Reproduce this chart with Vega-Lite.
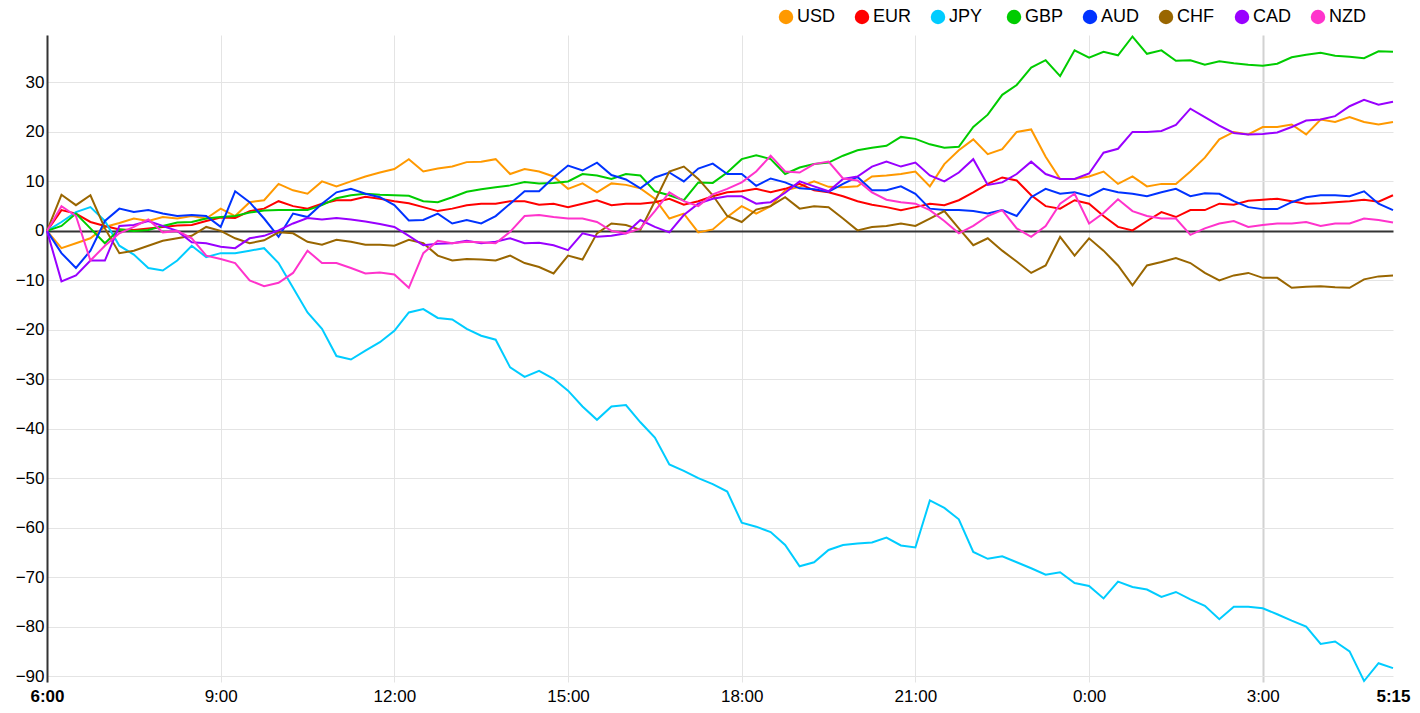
{
  "$schema": "https://vega.github.io/schema/vega-lite/v6.json",
  "description": "Intraday currency strength lines, 6:00 to 5:15.",
  "width": 1346,
  "height": 647,
  "autosize": {"type": "none"},
  "padding": {"left": 47, "top": 35, "right": 27, "bottom": 31},
  "background": "white",
  "config": {
    "font": "Liberation Sans",
    "view": {"stroke": null},
    "axis": {"labelFontSize": 17, "labelColor": "#000", "labelFont": "Liberation Sans"}
  },
  "data": {
    "values": [
      {"m":0,"c":"USD","v":0},{"m":15,"c":"USD","v":-3.5},{"m":30,"c":"USD","v":-2.5},{"m":45,"c":"USD","v":-1.5},{"m":60,"c":"USD","v":0.8},{"m":75,"c":"USD","v":1.6},{"m":90,"c":"USD","v":2.5},{"m":105,"c":"USD","v":2},{"m":120,"c":"USD","v":2.8},{"m":135,"c":"USD","v":2.5},
      {"m":150,"c":"USD","v":3},{"m":165,"c":"USD","v":2.5},{"m":180,"c":"USD","v":4.5},{"m":195,"c":"USD","v":3},{"m":210,"c":"USD","v":5.8},{"m":225,"c":"USD","v":6.2},{"m":240,"c":"USD","v":9.5},{"m":255,"c":"USD","v":8.2},{"m":270,"c":"USD","v":7.5},{"m":285,"c":"USD","v":10},
      {"m":300,"c":"USD","v":9},{"m":315,"c":"USD","v":10},{"m":330,"c":"USD","v":11},{"m":345,"c":"USD","v":11.8},{"m":360,"c":"USD","v":12.5},{"m":375,"c":"USD","v":14.5},{"m":390,"c":"USD","v":12},{"m":405,"c":"USD","v":12.6},{"m":420,"c":"USD","v":13},{"m":435,"c":"USD","v":13.9},
      {"m":450,"c":"USD","v":14},{"m":465,"c":"USD","v":14.5},{"m":480,"c":"USD","v":11.5},{"m":495,"c":"USD","v":12.5},{"m":510,"c":"USD","v":12},{"m":525,"c":"USD","v":11},{"m":540,"c":"USD","v":8.5},{"m":555,"c":"USD","v":9.6},{"m":570,"c":"USD","v":7.8},{"m":585,"c":"USD","v":9.6},
      {"m":600,"c":"USD","v":9.3},{"m":615,"c":"USD","v":8.6},{"m":630,"c":"USD","v":6.5},{"m":645,"c":"USD","v":2.5},{"m":660,"c":"USD","v":3.5},{"m":675,"c":"USD","v":-0.3},{"m":690,"c":"USD","v":0.3},{"m":705,"c":"USD","v":2.8},{"m":720,"c":"USD","v":5},{"m":735,"c":"USD","v":3.5},
      {"m":750,"c":"USD","v":5},{"m":765,"c":"USD","v":8.2},{"m":780,"c":"USD","v":8.9},{"m":795,"c":"USD","v":10},{"m":810,"c":"USD","v":8.9},{"m":825,"c":"USD","v":8.8},{"m":840,"c":"USD","v":9},{"m":855,"c":"USD","v":11},{"m":870,"c":"USD","v":11.2},{"m":885,"c":"USD","v":11.5},
      {"m":900,"c":"USD","v":12},{"m":915,"c":"USD","v":9},{"m":930,"c":"USD","v":13.5},{"m":945,"c":"USD","v":16.3},{"m":960,"c":"USD","v":18.5},{"m":975,"c":"USD","v":15.5},{"m":990,"c":"USD","v":16.5},{"m":1005,"c":"USD","v":20},{"m":1020,"c":"USD","v":20.5},{"m":1035,"c":"USD","v":15},
      {"m":1050,"c":"USD","v":10.5},{"m":1065,"c":"USD","v":10.5},{"m":1080,"c":"USD","v":11},{"m":1095,"c":"USD","v":12},{"m":1110,"c":"USD","v":9.5},{"m":1125,"c":"USD","v":11},{"m":1140,"c":"USD","v":9},{"m":1155,"c":"USD","v":9.5},{"m":1170,"c":"USD","v":9.5},{"m":1185,"c":"USD","v":12},
      {"m":1200,"c":"USD","v":14.8},{"m":1215,"c":"USD","v":18.5},{"m":1230,"c":"USD","v":20},{"m":1245,"c":"USD","v":19.5},{"m":1260,"c":"USD","v":21},{"m":1275,"c":"USD","v":21},{"m":1290,"c":"USD","v":21.5},{"m":1305,"c":"USD","v":19.5},{"m":1320,"c":"USD","v":22.5},{"m":1335,"c":"USD","v":22},
      {"m":1350,"c":"USD","v":23},{"m":1365,"c":"USD","v":22},{"m":1380,"c":"USD","v":21.5},{"m":1395,"c":"USD","v":22},

      {"m":0,"c":"EUR","v":0},{"m":15,"c":"EUR","v":4.2},{"m":30,"c":"EUR","v":3.5},{"m":45,"c":"EUR","v":1.8},{"m":60,"c":"EUR","v":1},{"m":75,"c":"EUR","v":0.3},{"m":90,"c":"EUR","v":0.2},{"m":105,"c":"EUR","v":0.5},{"m":120,"c":"EUR","v":0.8},{"m":135,"c":"EUR","v":1.1},
      {"m":150,"c":"EUR","v":1.2},{"m":165,"c":"EUR","v":2},{"m":180,"c":"EUR","v":2.7},{"m":195,"c":"EUR","v":2.6},{"m":210,"c":"EUR","v":4},{"m":225,"c":"EUR","v":4.5},{"m":240,"c":"EUR","v":6},{"m":255,"c":"EUR","v":5},{"m":270,"c":"EUR","v":4.5},{"m":285,"c":"EUR","v":5.5},
      {"m":300,"c":"EUR","v":6.2},{"m":315,"c":"EUR","v":6.2},{"m":330,"c":"EUR","v":6.9},{"m":345,"c":"EUR","v":6.5},{"m":360,"c":"EUR","v":6},{"m":375,"c":"EUR","v":5.6},{"m":390,"c":"EUR","v":4.8},{"m":405,"c":"EUR","v":4},{"m":420,"c":"EUR","v":4.5},{"m":435,"c":"EUR","v":5.2},
      {"m":450,"c":"EUR","v":5.5},{"m":465,"c":"EUR","v":5.5},{"m":480,"c":"EUR","v":6},{"m":495,"c":"EUR","v":6},{"m":510,"c":"EUR","v":5.3},{"m":525,"c":"EUR","v":5.5},{"m":540,"c":"EUR","v":4.8},{"m":555,"c":"EUR","v":5.5},{"m":570,"c":"EUR","v":6.2},{"m":585,"c":"EUR","v":5.2},
      {"m":600,"c":"EUR","v":5.5},{"m":615,"c":"EUR","v":5.5},{"m":630,"c":"EUR","v":5.8},{"m":645,"c":"EUR","v":6.5},{"m":660,"c":"EUR","v":5.3},{"m":675,"c":"EUR","v":6},{"m":690,"c":"EUR","v":7},{"m":705,"c":"EUR","v":7.8},{"m":720,"c":"EUR","v":8},{"m":735,"c":"EUR","v":8.5},
      {"m":750,"c":"EUR","v":7.8},{"m":765,"c":"EUR","v":8.5},{"m":780,"c":"EUR","v":9.5},{"m":795,"c":"EUR","v":8.2},{"m":810,"c":"EUR","v":7.8},{"m":825,"c":"EUR","v":7},{"m":840,"c":"EUR","v":6},{"m":855,"c":"EUR","v":5.3},{"m":870,"c":"EUR","v":4.8},{"m":885,"c":"EUR","v":4.2},
      {"m":900,"c":"EUR","v":4.8},{"m":915,"c":"EUR","v":5.5},{"m":930,"c":"EUR","v":5.2},{"m":945,"c":"EUR","v":6.2},{"m":960,"c":"EUR","v":7.8},{"m":975,"c":"EUR","v":9.5},{"m":990,"c":"EUR","v":10.8},{"m":1005,"c":"EUR","v":10.2},{"m":1020,"c":"EUR","v":7.2},{"m":1035,"c":"EUR","v":5},
      {"m":1050,"c":"EUR","v":4.5},{"m":1065,"c":"EUR","v":6.2},{"m":1080,"c":"EUR","v":5.5},{"m":1095,"c":"EUR","v":3},{"m":1110,"c":"EUR","v":0.8},{"m":1125,"c":"EUR","v":0.1},{"m":1140,"c":"EUR","v":2},{"m":1155,"c":"EUR","v":3.8},{"m":1170,"c":"EUR","v":2.8},{"m":1185,"c":"EUR","v":4.2},
      {"m":1200,"c":"EUR","v":4.2},{"m":1215,"c":"EUR","v":5.5},{"m":1230,"c":"EUR","v":5.3},{"m":1245,"c":"EUR","v":6.1},{"m":1260,"c":"EUR","v":6.3},{"m":1275,"c":"EUR","v":6.5},{"m":1290,"c":"EUR","v":6},{"m":1305,"c":"EUR","v":5.5},{"m":1320,"c":"EUR","v":5.6},{"m":1335,"c":"EUR","v":5.8},
      {"m":1350,"c":"EUR","v":6},{"m":1365,"c":"EUR","v":6.3},{"m":1380,"c":"EUR","v":5.9},{"m":1395,"c":"EUR","v":7.2},

      {"m":0,"c":"JPY","v":0},{"m":15,"c":"JPY","v":1.8},{"m":30,"c":"JPY","v":3.8},{"m":45,"c":"JPY","v":4.8},{"m":60,"c":"JPY","v":2},{"m":75,"c":"JPY","v":-3},{"m":90,"c":"JPY","v":-4.8},{"m":105,"c":"JPY","v":-7.5},{"m":120,"c":"JPY","v":-8},{"m":135,"c":"JPY","v":-6},
      {"m":150,"c":"JPY","v":-3},{"m":165,"c":"JPY","v":-5.3},{"m":180,"c":"JPY","v":-4.5},{"m":195,"c":"JPY","v":-4.5},{"m":210,"c":"JPY","v":-4},{"m":225,"c":"JPY","v":-3.5},{"m":240,"c":"JPY","v":-6.5},{"m":255,"c":"JPY","v":-11.5},{"m":270,"c":"JPY","v":-16.5},{"m":285,"c":"JPY","v":-19.8},
      {"m":300,"c":"JPY","v":-25.3},{"m":315,"c":"JPY","v":-26},{"m":330,"c":"JPY","v":-24.2},{"m":345,"c":"JPY","v":-22.5},{"m":360,"c":"JPY","v":-20.2},{"m":375,"c":"JPY","v":-16.5},{"m":390,"c":"JPY","v":-15.8},{"m":405,"c":"JPY","v":-17.6},{"m":420,"c":"JPY","v":-17.9},{"m":435,"c":"JPY","v":-19.8},
      {"m":450,"c":"JPY","v":-21.2},{"m":465,"c":"JPY","v":-22},{"m":480,"c":"JPY","v":-27.6},{"m":495,"c":"JPY","v":-29.5},{"m":510,"c":"JPY","v":-28.3},{"m":525,"c":"JPY","v":-29.9},{"m":540,"c":"JPY","v":-32.3},{"m":555,"c":"JPY","v":-35.5},{"m":570,"c":"JPY","v":-38.2},{"m":585,"c":"JPY","v":-35.5},
      {"m":600,"c":"JPY","v":-35.2},{"m":615,"c":"JPY","v":-38.7},{"m":630,"c":"JPY","v":-41.8},{"m":645,"c":"JPY","v":-47.2},{"m":660,"c":"JPY","v":-48.5},{"m":675,"c":"JPY","v":-50},{"m":690,"c":"JPY","v":-51.2},{"m":705,"c":"JPY","v":-52.7},{"m":720,"c":"JPY","v":-59},{"m":735,"c":"JPY","v":-59.8},
      {"m":750,"c":"JPY","v":-60.9},{"m":765,"c":"JPY","v":-63.5},{"m":780,"c":"JPY","v":-67.8},{"m":795,"c":"JPY","v":-67},{"m":810,"c":"JPY","v":-64.5},{"m":825,"c":"JPY","v":-63.5},{"m":840,"c":"JPY","v":-63.2},{"m":855,"c":"JPY","v":-63},{"m":870,"c":"JPY","v":-62},{"m":885,"c":"JPY","v":-63.6},
      {"m":900,"c":"JPY","v":-64},{"m":915,"c":"JPY","v":-54.5},{"m":930,"c":"JPY","v":-56},{"m":945,"c":"JPY","v":-58.3},{"m":960,"c":"JPY","v":-64.9},{"m":975,"c":"JPY","v":-66.3},{"m":990,"c":"JPY","v":-65.8},{"m":1005,"c":"JPY","v":-67},{"m":1020,"c":"JPY","v":-68.2},{"m":1035,"c":"JPY","v":-69.5},
      {"m":1050,"c":"JPY","v":-69},{"m":1065,"c":"JPY","v":-71.2},{"m":1080,"c":"JPY","v":-71.8},{"m":1095,"c":"JPY","v":-74.3},{"m":1110,"c":"JPY","v":-70.9},{"m":1125,"c":"JPY","v":-72},{"m":1140,"c":"JPY","v":-72.5},{"m":1155,"c":"JPY","v":-74},{"m":1170,"c":"JPY","v":-73},{"m":1185,"c":"JPY","v":-74.5},
      {"m":1200,"c":"JPY","v":-75.8},{"m":1215,"c":"JPY","v":-78.5},{"m":1230,"c":"JPY","v":-76},{"m":1245,"c":"JPY","v":-76},{"m":1260,"c":"JPY","v":-76.3},{"m":1275,"c":"JPY","v":-77.5},{"m":1290,"c":"JPY","v":-78.8},{"m":1305,"c":"JPY","v":-80},{"m":1320,"c":"JPY","v":-83.5},{"m":1335,"c":"JPY","v":-83},
      {"m":1350,"c":"JPY","v":-85},{"m":1365,"c":"JPY","v":-91},{"m":1380,"c":"JPY","v":-87.4},{"m":1395,"c":"JPY","v":-88.4},

      {"m":0,"c":"GBP","v":0},{"m":15,"c":"GBP","v":1},{"m":30,"c":"GBP","v":3.5},{"m":45,"c":"GBP","v":0.5},{"m":60,"c":"GBP","v":-2.5},{"m":75,"c":"GBP","v":0.3},{"m":90,"c":"GBP","v":0},{"m":105,"c":"GBP","v":0.2},{"m":120,"c":"GBP","v":1},{"m":135,"c":"GBP","v":1.7},
      {"m":150,"c":"GBP","v":1.8},{"m":165,"c":"GBP","v":2.5},{"m":180,"c":"GBP","v":2.8},{"m":195,"c":"GBP","v":3},{"m":210,"c":"GBP","v":3.7},{"m":225,"c":"GBP","v":4.1},{"m":240,"c":"GBP","v":4.2},{"m":255,"c":"GBP","v":4.2},{"m":270,"c":"GBP","v":4.2},{"m":285,"c":"GBP","v":5.2},
      {"m":300,"c":"GBP","v":6.6},{"m":315,"c":"GBP","v":7.2},{"m":330,"c":"GBP","v":7.5},{"m":345,"c":"GBP","v":7.3},{"m":360,"c":"GBP","v":7.2},{"m":375,"c":"GBP","v":7.1},{"m":390,"c":"GBP","v":6},{"m":405,"c":"GBP","v":5.8},{"m":420,"c":"GBP","v":6.8},{"m":435,"c":"GBP","v":7.9},
      {"m":450,"c":"GBP","v":8.4},{"m":465,"c":"GBP","v":8.8},{"m":480,"c":"GBP","v":9.2},{"m":495,"c":"GBP","v":9.9},{"m":510,"c":"GBP","v":9.6},{"m":525,"c":"GBP","v":9.7},{"m":540,"c":"GBP","v":10},{"m":555,"c":"GBP","v":11.5},{"m":570,"c":"GBP","v":11.2},{"m":585,"c":"GBP","v":10.5},
      {"m":600,"c":"GBP","v":11.5},{"m":615,"c":"GBP","v":11.2},{"m":630,"c":"GBP","v":8},{"m":645,"c":"GBP","v":7.2},{"m":660,"c":"GBP","v":6.2},{"m":675,"c":"GBP","v":9.8},{"m":690,"c":"GBP","v":9.7},{"m":705,"c":"GBP","v":11.8},{"m":720,"c":"GBP","v":14.5},{"m":735,"c":"GBP","v":15.3},
      {"m":750,"c":"GBP","v":14.5},{"m":765,"c":"GBP","v":11.5},{"m":780,"c":"GBP","v":12.8},{"m":795,"c":"GBP","v":13.5},{"m":810,"c":"GBP","v":13.8},{"m":825,"c":"GBP","v":15.2},{"m":840,"c":"GBP","v":16.3},{"m":855,"c":"GBP","v":16.8},{"m":870,"c":"GBP","v":17.2},{"m":885,"c":"GBP","v":19},
      {"m":900,"c":"GBP","v":18.6},{"m":915,"c":"GBP","v":17.5},{"m":930,"c":"GBP","v":16.8},{"m":945,"c":"GBP","v":17},{"m":960,"c":"GBP","v":21},{"m":975,"c":"GBP","v":23.5},{"m":990,"c":"GBP","v":27.5},{"m":1005,"c":"GBP","v":29.5},{"m":1020,"c":"GBP","v":33},{"m":1035,"c":"GBP","v":34.5},
      {"m":1050,"c":"GBP","v":31.3},{"m":1065,"c":"GBP","v":36.5},{"m":1080,"c":"GBP","v":35},{"m":1095,"c":"GBP","v":36.2},{"m":1110,"c":"GBP","v":35.5},{"m":1125,"c":"GBP","v":39.3},{"m":1140,"c":"GBP","v":35.8},{"m":1155,"c":"GBP","v":36.5},{"m":1170,"c":"GBP","v":34.4},{"m":1185,"c":"GBP","v":34.5},
      {"m":1200,"c":"GBP","v":33.6},{"m":1215,"c":"GBP","v":34.3},{"m":1230,"c":"GBP","v":33.9},{"m":1245,"c":"GBP","v":33.6},{"m":1260,"c":"GBP","v":33.4},{"m":1275,"c":"GBP","v":33.8},{"m":1290,"c":"GBP","v":35.1},{"m":1305,"c":"GBP","v":35.6},{"m":1320,"c":"GBP","v":36},{"m":1335,"c":"GBP","v":35.4},
      {"m":1350,"c":"GBP","v":35.2},{"m":1365,"c":"GBP","v":34.9},{"m":1380,"c":"GBP","v":36.3},{"m":1395,"c":"GBP","v":36.2},

      {"m":0,"c":"AUD","v":0},{"m":15,"c":"AUD","v":-4.5},{"m":30,"c":"AUD","v":-7.5},{"m":45,"c":"AUD","v":-4},{"m":60,"c":"AUD","v":2},{"m":75,"c":"AUD","v":4.5},{"m":90,"c":"AUD","v":3.8},{"m":105,"c":"AUD","v":4.2},{"m":120,"c":"AUD","v":3.5},{"m":135,"c":"AUD","v":3},
      {"m":150,"c":"AUD","v":3.2},{"m":165,"c":"AUD","v":3},{"m":180,"c":"AUD","v":0.8},{"m":195,"c":"AUD","v":8},{"m":210,"c":"AUD","v":5.8},{"m":225,"c":"AUD","v":2.5},{"m":240,"c":"AUD","v":-1.2},{"m":255,"c":"AUD","v":3.5},{"m":270,"c":"AUD","v":2.8},{"m":285,"c":"AUD","v":5.5},
      {"m":300,"c":"AUD","v":7.8},{"m":315,"c":"AUD","v":8.5},{"m":330,"c":"AUD","v":7.5},{"m":345,"c":"AUD","v":6.8},{"m":360,"c":"AUD","v":5.2},{"m":375,"c":"AUD","v":2.1},{"m":390,"c":"AUD","v":2.2},{"m":405,"c":"AUD","v":3.5},{"m":420,"c":"AUD","v":1.5},{"m":435,"c":"AUD","v":2.2},
      {"m":450,"c":"AUD","v":1.5},{"m":465,"c":"AUD","v":3},{"m":480,"c":"AUD","v":5.5},{"m":495,"c":"AUD","v":8},{"m":510,"c":"AUD","v":8},{"m":525,"c":"AUD","v":10.8},{"m":540,"c":"AUD","v":13.2},{"m":555,"c":"AUD","v":12.2},{"m":570,"c":"AUD","v":13.8},{"m":585,"c":"AUD","v":11.3},
      {"m":600,"c":"AUD","v":10.4},{"m":615,"c":"AUD","v":8.6},{"m":630,"c":"AUD","v":10.8},{"m":645,"c":"AUD","v":11.8},{"m":660,"c":"AUD","v":10},{"m":675,"c":"AUD","v":12.6},{"m":690,"c":"AUD","v":13.6},{"m":705,"c":"AUD","v":11.5},{"m":720,"c":"AUD","v":11.5},{"m":735,"c":"AUD","v":9.1},
      {"m":750,"c":"AUD","v":10.6},{"m":765,"c":"AUD","v":9.8},{"m":780,"c":"AUD","v":8.6},{"m":795,"c":"AUD","v":8.4},{"m":810,"c":"AUD","v":7.9},{"m":825,"c":"AUD","v":9.5},{"m":840,"c":"AUD","v":10.9},{"m":855,"c":"AUD","v":8.2},{"m":870,"c":"AUD","v":8.2},{"m":885,"c":"AUD","v":9},
      {"m":900,"c":"AUD","v":7.5},{"m":915,"c":"AUD","v":4.5},{"m":930,"c":"AUD","v":4.2},{"m":945,"c":"AUD","v":4.2},{"m":960,"c":"AUD","v":4},{"m":975,"c":"AUD","v":3.5},{"m":990,"c":"AUD","v":4.2},{"m":1005,"c":"AUD","v":3},{"m":1020,"c":"AUD","v":6.8},{"m":1035,"c":"AUD","v":8.5},
      {"m":1050,"c":"AUD","v":7.5},{"m":1065,"c":"AUD","v":7.8},{"m":1080,"c":"AUD","v":7},{"m":1095,"c":"AUD","v":8.5},{"m":1110,"c":"AUD","v":7.8},{"m":1125,"c":"AUD","v":7.5},{"m":1140,"c":"AUD","v":7},{"m":1155,"c":"AUD","v":7.8},{"m":1170,"c":"AUD","v":8.5},{"m":1185,"c":"AUD","v":7},
      {"m":1200,"c":"AUD","v":7.6},{"m":1215,"c":"AUD","v":7.5},{"m":1230,"c":"AUD","v":6},{"m":1245,"c":"AUD","v":4.8},{"m":1260,"c":"AUD","v":4.4},{"m":1275,"c":"AUD","v":4.4},{"m":1290,"c":"AUD","v":5.8},{"m":1305,"c":"AUD","v":6.8},{"m":1320,"c":"AUD","v":7.2},{"m":1335,"c":"AUD","v":7.2},
      {"m":1350,"c":"AUD","v":7},{"m":1365,"c":"AUD","v":8},{"m":1380,"c":"AUD","v":5.5},{"m":1395,"c":"AUD","v":4.2},

      {"m":0,"c":"CHF","v":0},{"m":15,"c":"CHF","v":7.3},{"m":30,"c":"CHF","v":5.2},{"m":45,"c":"CHF","v":7.2},{"m":60,"c":"CHF","v":0.5},{"m":75,"c":"CHF","v":-4.5},{"m":90,"c":"CHF","v":-4},{"m":105,"c":"CHF","v":-3},{"m":120,"c":"CHF","v":-2},{"m":135,"c":"CHF","v":-1.5},
      {"m":150,"c":"CHF","v":-1},{"m":165,"c":"CHF","v":0.8},{"m":180,"c":"CHF","v":0},{"m":195,"c":"CHF","v":-1.5},{"m":210,"c":"CHF","v":-2.5},{"m":225,"c":"CHF","v":-1.9},{"m":240,"c":"CHF","v":-0.3},{"m":255,"c":"CHF","v":-0.5},{"m":270,"c":"CHF","v":-2.2},{"m":285,"c":"CHF","v":-2.8},
      {"m":300,"c":"CHF","v":-1.8},{"m":315,"c":"CHF","v":-2.2},{"m":330,"c":"CHF","v":-2.8},{"m":345,"c":"CHF","v":-2.8},{"m":360,"c":"CHF","v":-3},{"m":375,"c":"CHF","v":-1.8},{"m":390,"c":"CHF","v":-2.5},{"m":405,"c":"CHF","v":-5},{"m":420,"c":"CHF","v":-6},{"m":435,"c":"CHF","v":-5.7},
      {"m":450,"c":"CHF","v":-5.8},{"m":465,"c":"CHF","v":-6},{"m":480,"c":"CHF","v":-5},{"m":495,"c":"CHF","v":-6.5},{"m":510,"c":"CHF","v":-7.3},{"m":525,"c":"CHF","v":-8.6},{"m":540,"c":"CHF","v":-5},{"m":555,"c":"CHF","v":-5.8},{"m":570,"c":"CHF","v":-0.5},{"m":585,"c":"CHF","v":1.5},
      {"m":600,"c":"CHF","v":1.2},{"m":615,"c":"CHF","v":0.2},{"m":630,"c":"CHF","v":6},{"m":645,"c":"CHF","v":12},{"m":660,"c":"CHF","v":13},{"m":675,"c":"CHF","v":10.5},{"m":690,"c":"CHF","v":7.2},{"m":705,"c":"CHF","v":3},{"m":720,"c":"CHF","v":1.8},{"m":735,"c":"CHF","v":4.3},
      {"m":750,"c":"CHF","v":5},{"m":765,"c":"CHF","v":6.8},{"m":780,"c":"CHF","v":4.5},{"m":795,"c":"CHF","v":5},{"m":810,"c":"CHF","v":4.8},{"m":825,"c":"CHF","v":2.5},{"m":840,"c":"CHF","v":0.1},{"m":855,"c":"CHF","v":0.8},{"m":870,"c":"CHF","v":1},{"m":885,"c":"CHF","v":1.5},
      {"m":900,"c":"CHF","v":1},{"m":915,"c":"CHF","v":2.5},{"m":930,"c":"CHF","v":4},{"m":945,"c":"CHF","v":0.5},{"m":960,"c":"CHF","v":-2.9},{"m":975,"c":"CHF","v":-1.5},{"m":990,"c":"CHF","v":-4},{"m":1005,"c":"CHF","v":-6.2},{"m":1020,"c":"CHF","v":-8.5},{"m":1035,"c":"CHF","v":-7},
      {"m":1050,"c":"CHF","v":-1.2},{"m":1065,"c":"CHF","v":-5},{"m":1080,"c":"CHF","v":-1.5},{"m":1095,"c":"CHF","v":-4},{"m":1110,"c":"CHF","v":-7},{"m":1125,"c":"CHF","v":-11},{"m":1140,"c":"CHF","v":-7},{"m":1155,"c":"CHF","v":-6.3},{"m":1170,"c":"CHF","v":-5.5},{"m":1185,"c":"CHF","v":-6.5},
      {"m":1200,"c":"CHF","v":-8.5},{"m":1215,"c":"CHF","v":-10},{"m":1230,"c":"CHF","v":-9},{"m":1245,"c":"CHF","v":-8.5},{"m":1260,"c":"CHF","v":-9.5},{"m":1275,"c":"CHF","v":-9.5},{"m":1290,"c":"CHF","v":-11.5},{"m":1305,"c":"CHF","v":-11.3},{"m":1320,"c":"CHF","v":-11.2},{"m":1335,"c":"CHF","v":-11.4},
      {"m":1350,"c":"CHF","v":-11.5},{"m":1365,"c":"CHF","v":-9.8},{"m":1380,"c":"CHF","v":-9.2},{"m":1395,"c":"CHF","v":-9},

      {"m":0,"c":"CAD","v":0},{"m":15,"c":"CAD","v":-10.2},{"m":30,"c":"CAD","v":-9},{"m":45,"c":"CAD","v":-6},{"m":60,"c":"CAD","v":-6},{"m":75,"c":"CAD","v":1},{"m":90,"c":"CAD","v":1.2},{"m":105,"c":"CAD","v":2},{"m":120,"c":"CAD","v":1},{"m":135,"c":"CAD","v":0},
      {"m":150,"c":"CAD","v":-2.3},{"m":165,"c":"CAD","v":-2.5},{"m":180,"c":"CAD","v":-3.2},{"m":195,"c":"CAD","v":-3.5},{"m":210,"c":"CAD","v":-1.5},{"m":225,"c":"CAD","v":-1},{"m":240,"c":"CAD","v":0.1},{"m":255,"c":"CAD","v":1.5},{"m":270,"c":"CAD","v":2.6},{"m":285,"c":"CAD","v":2.3},
      {"m":300,"c":"CAD","v":2.6},{"m":315,"c":"CAD","v":2.3},{"m":330,"c":"CAD","v":1.9},{"m":345,"c":"CAD","v":1.4},{"m":360,"c":"CAD","v":0.8},{"m":375,"c":"CAD","v":-1},{"m":390,"c":"CAD","v":-2.9},{"m":405,"c":"CAD","v":-2.6},{"m":420,"c":"CAD","v":-2.5},{"m":435,"c":"CAD","v":-2},
      {"m":450,"c":"CAD","v":-2.5},{"m":465,"c":"CAD","v":-2.2},{"m":480,"c":"CAD","v":-1.5},{"m":495,"c":"CAD","v":-2.5},{"m":510,"c":"CAD","v":-2.4},{"m":525,"c":"CAD","v":-2.9},{"m":540,"c":"CAD","v":-3.9},{"m":555,"c":"CAD","v":-0.5},{"m":570,"c":"CAD","v":-1.2},{"m":585,"c":"CAD","v":-1},
      {"m":600,"c":"CAD","v":-0.5},{"m":615,"c":"CAD","v":2.2},{"m":630,"c":"CAD","v":0.8},{"m":645,"c":"CAD","v":-0.3},{"m":660,"c":"CAD","v":3.2},{"m":675,"c":"CAD","v":5.5},{"m":690,"c":"CAD","v":6.5},{"m":705,"c":"CAD","v":7},{"m":720,"c":"CAD","v":7},{"m":735,"c":"CAD","v":5.5},
      {"m":750,"c":"CAD","v":5.8},{"m":765,"c":"CAD","v":7.7},{"m":780,"c":"CAD","v":10},{"m":795,"c":"CAD","v":9},{"m":810,"c":"CAD","v":8},{"m":825,"c":"CAD","v":10.5},{"m":840,"c":"CAD","v":11},{"m":855,"c":"CAD","v":13},{"m":870,"c":"CAD","v":14},{"m":885,"c":"CAD","v":13},
      {"m":900,"c":"CAD","v":13.8},{"m":915,"c":"CAD","v":11.2},{"m":930,"c":"CAD","v":10},{"m":945,"c":"CAD","v":11.8},{"m":960,"c":"CAD","v":14.5},{"m":975,"c":"CAD","v":9.3},{"m":990,"c":"CAD","v":9.8},{"m":1005,"c":"CAD","v":11.5},{"m":1020,"c":"CAD","v":14},{"m":1035,"c":"CAD","v":11.5},
      {"m":1050,"c":"CAD","v":10.5},{"m":1065,"c":"CAD","v":10.5},{"m":1080,"c":"CAD","v":11.6},{"m":1095,"c":"CAD","v":15.8},{"m":1110,"c":"CAD","v":16.6},{"m":1125,"c":"CAD","v":20},{"m":1140,"c":"CAD","v":20},{"m":1155,"c":"CAD","v":20.2},{"m":1170,"c":"CAD","v":21.4},{"m":1185,"c":"CAD","v":24.7},
      {"m":1200,"c":"CAD","v":23},{"m":1215,"c":"CAD","v":21.3},{"m":1230,"c":"CAD","v":19.8},{"m":1245,"c":"CAD","v":19.5},{"m":1260,"c":"CAD","v":19.6},{"m":1275,"c":"CAD","v":19.9},{"m":1290,"c":"CAD","v":21},{"m":1305,"c":"CAD","v":22.3},{"m":1320,"c":"CAD","v":22.5},{"m":1335,"c":"CAD","v":23.2},
      {"m":1350,"c":"CAD","v":25.2},{"m":1365,"c":"CAD","v":26.5},{"m":1380,"c":"CAD","v":25.5},{"m":1395,"c":"CAD","v":26.1},

      {"m":0,"c":"NZD","v":0},{"m":15,"c":"NZD","v":5},{"m":30,"c":"NZD","v":3},{"m":45,"c":"NZD","v":-6},{"m":60,"c":"NZD","v":-3},{"m":75,"c":"NZD","v":-0.5},{"m":90,"c":"NZD","v":0.8},{"m":105,"c":"NZD","v":2.3},{"m":120,"c":"NZD","v":-0.3},{"m":135,"c":"NZD","v":0},
      {"m":150,"c":"NZD","v":-1.5},{"m":165,"c":"NZD","v":-5},{"m":180,"c":"NZD","v":-5.7},{"m":195,"c":"NZD","v":-6.5},{"m":210,"c":"NZD","v":-10},{"m":225,"c":"NZD","v":-11.2},{"m":240,"c":"NZD","v":-10.5},{"m":255,"c":"NZD","v":-8.5},{"m":270,"c":"NZD","v":-4},{"m":285,"c":"NZD","v":-6.5},
      {"m":300,"c":"NZD","v":-6.5},{"m":315,"c":"NZD","v":-7.5},{"m":330,"c":"NZD","v":-8.6},{"m":345,"c":"NZD","v":-8.4},{"m":360,"c":"NZD","v":-8.8},{"m":375,"c":"NZD","v":-11.5},{"m":390,"c":"NZD","v":-4.5},{"m":405,"c":"NZD","v":-2},{"m":420,"c":"NZD","v":-2.5},{"m":435,"c":"NZD","v":-2.2},
      {"m":450,"c":"NZD","v":-2.3},{"m":465,"c":"NZD","v":-2.5},{"m":480,"c":"NZD","v":-0.2},{"m":495,"c":"NZD","v":3},{"m":510,"c":"NZD","v":3.2},{"m":525,"c":"NZD","v":2.8},{"m":540,"c":"NZD","v":2.5},{"m":555,"c":"NZD","v":2.5},{"m":570,"c":"NZD","v":1.8},{"m":585,"c":"NZD","v":0},
      {"m":600,"c":"NZD","v":-0.5},{"m":615,"c":"NZD","v":0.5},{"m":630,"c":"NZD","v":4},{"m":645,"c":"NZD","v":7.8},{"m":660,"c":"NZD","v":6},{"m":675,"c":"NZD","v":5},{"m":690,"c":"NZD","v":7.4},{"m":705,"c":"NZD","v":8.5},{"m":720,"c":"NZD","v":9.8},{"m":735,"c":"NZD","v":12},
      {"m":750,"c":"NZD","v":15.2},{"m":765,"c":"NZD","v":12},{"m":780,"c":"NZD","v":11.8},{"m":795,"c":"NZD","v":13.5},{"m":810,"c":"NZD","v":14},{"m":825,"c":"NZD","v":10.6},{"m":840,"c":"NZD","v":10.2},{"m":855,"c":"NZD","v":7.8},{"m":870,"c":"NZD","v":6.3},{"m":885,"c":"NZD","v":5.8},
      {"m":900,"c":"NZD","v":5.5},{"m":915,"c":"NZD","v":4.2},{"m":930,"c":"NZD","v":2},{"m":945,"c":"NZD","v":-0.5},{"m":960,"c":"NZD","v":1},{"m":975,"c":"NZD","v":3},{"m":990,"c":"NZD","v":4.2},{"m":1005,"c":"NZD","v":0.5},{"m":1020,"c":"NZD","v":-1.2},{"m":1035,"c":"NZD","v":1},
      {"m":1050,"c":"NZD","v":5.5},{"m":1065,"c":"NZD","v":7.5},{"m":1080,"c":"NZD","v":1.5},{"m":1095,"c":"NZD","v":3.6},{"m":1110,"c":"NZD","v":6.4},{"m":1125,"c":"NZD","v":4},{"m":1140,"c":"NZD","v":3},{"m":1155,"c":"NZD","v":2.5},{"m":1170,"c":"NZD","v":2.5},{"m":1185,"c":"NZD","v":-0.8},
      {"m":1200,"c":"NZD","v":0.5},{"m":1215,"c":"NZD","v":1.5},{"m":1230,"c":"NZD","v":2},{"m":1245,"c":"NZD","v":0.8},{"m":1260,"c":"NZD","v":1.2},{"m":1275,"c":"NZD","v":1.5},{"m":1290,"c":"NZD","v":1.5},{"m":1305,"c":"NZD","v":1.8},{"m":1320,"c":"NZD","v":1},{"m":1335,"c":"NZD","v":1.5},
      {"m":1350,"c":"NZD","v":1.5},{"m":1365,"c":"NZD","v":2.5},{"m":1380,"c":"NZD","v":2.2},{"m":1395,"c":"NZD","v":1.7}
    ]
  },
  "mark": {"type": "line", "strokeWidth": 2},
  "encoding": {
    "x": {
      "field": "m",
      "type": "quantitative",
      "scale": {"domain": [0, 1395], "nice": false, "zero": false},
      "axis": {
        "title": null,
        "values": [0, 180, 360, 540, 720, 900, 1080, 1260, 1395],
        "labelExpr": "floor((datum.value / 60 + 6) % 24) + ':' + (datum.value % 60 < 10 ? '0' : '') + (datum.value % 60)",
        "labelFontWeight": {"condition": {"test": "datum.value == 0 || datum.value == 1395", "value": "bold"}, "value": "normal"},
        "labelFlush": false,
        "labelOverlap": false,
        "labelPadding": 6,
        "domain": false,
        "ticks": false,
        "grid": true,
        "gridColor": {"condition": {"test": "datum.value == 1260", "value": "#d2d2d2"}, "value": "#e4e4e4"},
        "gridWidth": {"condition": {"test": "datum.value == 1260", "value": 2}, "value": 1},
        "gridOpacity": {"condition": {"test": "datum.value == 1395", "value": 0}, "value": 1}
      }
    },
    "y": {
      "field": "v",
      "type": "quantitative",
      "scale": {"domain": [-91.2, 39.6], "nice": false, "zero": false},
      "axis": {
        "title": null,
        "values": [-90, -80, -70, -60, -50, -40, -30, -20, -10, 0, 10, 20, 30],
        "labelPadding": 3,
        "ticks": false,
        "domainColor": "#333",
        "domainWidth": 2,
        "grid": true,
        "gridColor": {"condition": {"test": "datum.value == 0", "value": "#333"}, "value": "#e4e4e4"},
        "gridWidth": {"condition": {"test": "datum.value == 0", "value": 2}, "value": 1}
      }
    },
    "color": {
      "field": "c",
      "type": "nominal",
      "scale": {
        "domain": ["USD", "EUR", "JPY", "GBP", "AUD", "CHF", "CAD", "NZD"],
        "range": ["#ff9900", "#ff0000", "#00ccff", "#00cc00", "#0033ff", "#996600", "#9900ff", "#ff33cc"]
      },
      "legend": {
        "title": null,
        "orient": "none",
        "legendX": 730,
        "legendY": -27,
        "direction": "horizontal",
        "gridAlign": "all",
        "columnPadding": 17,
        "symbolType": "circle",
        "symbolSize": 210,
        "symbolStrokeWidth": 0,
        "labelFontSize": 18,
        "labelColor": "#000",
        "labelOffset": 2,
        "encode": {"symbols": {"update": {"fill": {"signal": "scale('color', datum.value)"}, "opacity": {"value": 1}}}}
      }
    }
  }
}
